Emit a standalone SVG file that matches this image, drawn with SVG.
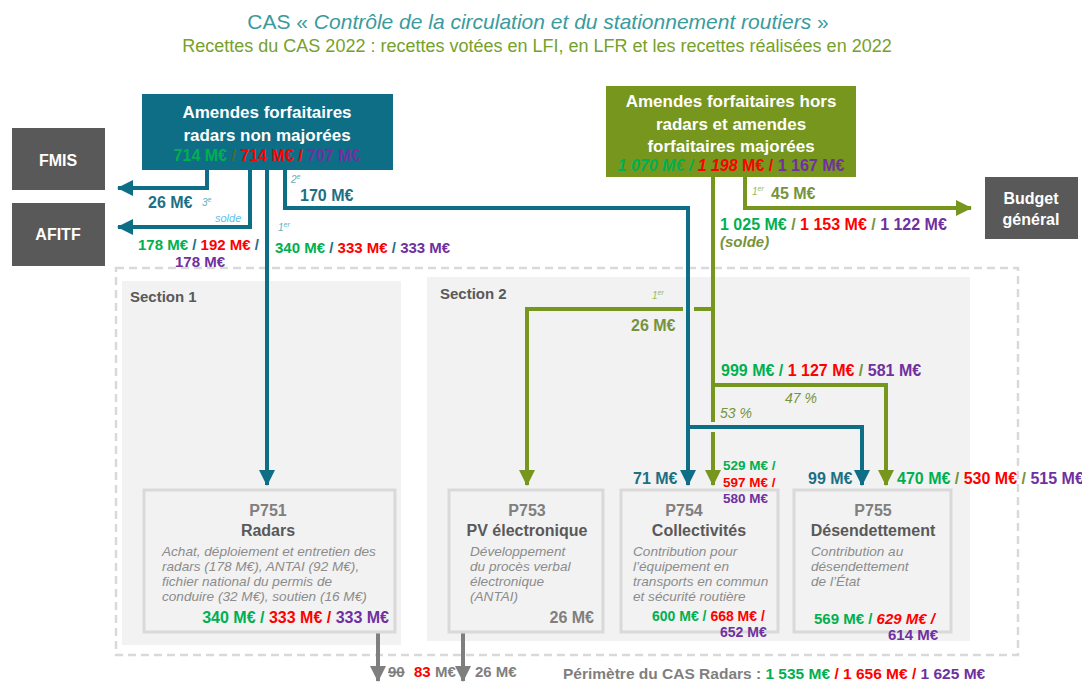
<svg xmlns="http://www.w3.org/2000/svg" width="1082" height="682" viewBox="0 0 1082 682">
<defs>
<style>
text{font-family:"Liberation Sans",Arial,sans-serif}
.b{font-weight:bold}
.i{font-style:italic}
.w{fill:#fff}
.g{fill:#00b050}.r{fill:#ff0000}.p{fill:#7030a0}
.t{fill:#1d6f83}.o{fill:#77933c}.gr{fill:#7f7f7f}.dg{fill:#595959}
.tl{fill:none;stroke:#0e6e86;stroke-width:4}
.gl{fill:none;stroke:#76961e;stroke-width:4}
.ggl{fill:none;stroke:#7f7f7f;stroke-width:4}
.desc{font-size:13.6px;font-style:italic;fill:#8c8c8c}
.prog{fill:#f2f2f2;stroke:#d9d9d9;stroke-width:3}
</style>
<marker id="mt" markerUnits="userSpaceOnUse" markerWidth="16" markerHeight="16" refX="15" refY="8" orient="auto"><path d="M0,0 L16,8 L0,16 z" fill="#0e6e86"/></marker>
<marker id="mg" markerUnits="userSpaceOnUse" markerWidth="16" markerHeight="16" refX="15" refY="8" orient="auto"><path d="M0,0 L16,8 L0,16 z" fill="#76961e"/></marker>
<marker id="mgr" markerUnits="userSpaceOnUse" markerWidth="16" markerHeight="16" refX="15" refY="8" orient="auto"><path d="M0,0 L16,8 L0,16 z" fill="#7f7f7f"/></marker>
</defs>

<g id="title">
<text x="538" y="29" text-anchor="middle" font-size="21" fill="#3a9b9e">CAS « <tspan class="i">Contrôle de la circulation et du stationnement routiers</tspan> »</text>
<text x="537" y="52" text-anchor="middle" font-size="18" fill="#76a12a">Recettes du CAS 2022 : recettes votées en LFI, en LFR et les recettes réalisées en 2022</text>
</g>

<g id="sections">
<rect x="116" y="268" width="902" height="387" fill="none" stroke="#d9d9d9" stroke-width="2.5" stroke-dasharray="8,5"/>
<rect x="122" y="281" width="279" height="364" fill="#f2f2f2"/>
<text x="130" y="302" class="b dg" font-size="15">Section 1</text>
<rect x="427" y="277" width="543" height="364" fill="#f2f2f2"/>
<text x="440" y="299" class="b dg" font-size="15">Section 2</text>
</g>

<g id="connectors">
<path class="tl" d="M207,170 V188 H118" marker-end="url(#mt)"/>
<path class="tl" d="M250,170 V227 H118" marker-end="url(#mt)"/>
<path class="tl" d="M267,170 V485" marker-end="url(#mt)"/>
<path class="tl" d="M285,170 V208 H688 V485" marker-end="url(#mt)"/>
<path class="tl" d="M688,427 H862 V485" marker-end="url(#mt)"/>
<path class="gl" d="M745,177 V208 H971" marker-end="url(#mg)"/>
<path class="gl" d="M713,177 V422"/>
<path class="gl" d="M713,432 V485" marker-end="url(#mg)"/>
<path class="gl" d="M713,309 H694"/>
<path class="gl" d="M683,309 H527 V485" marker-end="url(#mg)"/>
<path class="gl" d="M713,385 H886 V485" marker-end="url(#mg)"/>
<path class="ggl" d="M378,632 V681" marker-end="url(#mgr)"/>
<path class="ggl" d="M463,632 V681" marker-end="url(#mgr)"/>
</g>

<g id="src-radars">
<rect x="142" y="94" width="251" height="76" fill="#0e6e86"/>
<text x="267" y="118" text-anchor="middle" class="b w" font-size="17">Amendes forfaitaires</text>
<text x="267" y="141" text-anchor="middle" class="b w" font-size="17">radars non majorées</text>
<text x="267" y="161" text-anchor="middle" class="b" font-size="16"><tspan class="g">714 M€</tspan><tspan fill="#4b6b2a"> / </tspan><tspan class="r">714 M€ /</tspan><tspan class="p"> 707 M€</tspan></text>
</g>

<g id="src-hors">
<rect x="606" y="86" width="250" height="91" fill="#76961e"/>
<text x="731" y="107" text-anchor="middle" class="b w" font-size="17">Amendes forfaitaires hors</text>
<text x="731" y="130" text-anchor="middle" class="b w" font-size="17">radars et amendes</text>
<text x="731" y="152" text-anchor="middle" class="b w" font-size="17">forfaitaires majorées</text>
<text x="731" y="171" text-anchor="middle" class="b" font-size="16"><tspan class="g i">1 070 M€ / </tspan><tspan class="r i"> 1 198</tspan><tspan class="r"> M€ / </tspan><tspan class="p">1 167 M€</tspan></text>
</g>

<g id="fmis">
<rect x="12" y="128" width="93" height="62" fill="#595959"/>
<text x="58" y="166" text-anchor="middle" class="b w" font-size="16">FMIS</text>
</g>
<g id="afitf">
<rect x="12" y="203" width="93" height="63" fill="#595959"/>
<text x="58" y="240" text-anchor="middle" class="b w" font-size="16">AFITF</text>
</g>
<g id="budget">
<rect x="985" y="177" width="93" height="62" fill="#595959"/>
<text x="1031" y="204" text-anchor="middle" class="b w" font-size="16">Budget</text>
<text x="1031" y="225" text-anchor="middle" class="b w" font-size="16">général</text>
</g>

<g id="p751">
<rect class="prog" x="144" y="490" width="251" height="142"/>
<text x="268" y="516" text-anchor="middle" class="b gr" font-size="16">P751</text>
<text x="268" y="536" text-anchor="middle" class="b dg" font-size="16">Radars</text>
<text x="162" y="556" class="desc">Achat, déploiement et entretien des</text>
<text x="162" y="571" class="desc">radars (178 M€), ANTAI (92 M€),</text>
<text x="162" y="586" class="desc">fichier national du permis de</text>
<text x="162" y="601" class="desc">conduire (32 M€), soutien (16 M€)</text>
<text x="389" y="623" text-anchor="end" class="b" font-size="16"><tspan class="g">340 M€ / </tspan><tspan class="r">333 M€ / </tspan><tspan class="p">333 M€</tspan></text>
</g>

<g id="p753">
<rect class="prog" x="449" y="490" width="154" height="142"/>
<text x="527" y="516" text-anchor="middle" class="b gr" font-size="16">P753</text>
<text x="527" y="536" text-anchor="middle" class="b dg" font-size="16">PV électronique</text>
<text x="470" y="556" class="desc">Développement</text>
<text x="470" y="571" class="desc">du procès verbal</text>
<text x="470" y="586" class="desc">électronique</text>
<text x="470" y="601" class="desc">(ANTAI)</text>
<text x="594" y="623" text-anchor="end" class="b gr" font-size="16">26 M€</text>
</g>

<g id="p754">
<rect class="prog" x="621" y="490" width="157" height="142"/>
<text x="684" y="516" text-anchor="middle" class="b gr" font-size="16">P754</text>
<text x="699" y="536" text-anchor="middle" class="b dg" font-size="16">Collectivités</text>
<text x="633" y="556" class="desc">Contribution pour</text>
<text x="633" y="571" class="desc">l’équipement en</text>
<text x="633" y="586" class="desc">transports en commun</text>
<text x="633" y="601" class="desc">et sécurité routière</text>
<text x="652" y="621" class="b" font-size="14"><tspan class="g">600 M€ / </tspan><tspan class="r">668 M€ /</tspan></text>
<text x="720" y="637" class="b p" font-size="14">652 M€</text>
</g>

<g id="p755">
<rect class="prog" x="794" y="490" width="157" height="142"/>
<text x="873" y="516" text-anchor="middle" class="b gr" font-size="16">P755</text>
<text x="873" y="536" text-anchor="middle" class="b dg" font-size="16">Désendettement</text>
<text x="811" y="556" class="desc">Contribution  au</text>
<text x="811" y="571" class="desc">désendettement</text>
<text x="811" y="586" class="desc">de l’État</text>
<text x="814" y="624" class="b" font-size="15"><tspan class="g">569 M€ / </tspan><tspan class="r i">629 M€ /</tspan></text>
<text x="888" y="640" class="b p" font-size="15">614 M€</text>
</g>

<g id="labels">
<text x="148" y="208" class="b t" font-size="16">26 M€</text>
<text x="202" y="206" class="i" font-size="10" fill="#66b2b8">3<tspan font-size="7" dy="-4">e</tspan></text>
<text x="215" y="222" class="i" font-size="11" fill="#5bc0eb">solde</text>
<text x="138" y="250" class="b" font-size="15"><tspan class="g">178 M€</tspan><tspan class="t"> / </tspan><tspan class="r">192 M€</tspan><tspan class="t"> /</tspan></text>
<text x="175" y="267" class="b p" font-size="15">178 M€</text>
<text x="291" y="183" class="i" font-size="10" fill="#66b2b8">2<tspan font-size="7" dy="-4">e</tspan></text>
<text x="300" y="201" class="b t" font-size="16">170 M€</text>
<text x="278" y="231" class="i" font-size="10" fill="#66b2b8">1<tspan font-size="7" dy="-4">er</tspan></text>
<text x="275" y="253" class="b" font-size="15"><tspan class="g">340 M€</tspan><tspan class="t"> / </tspan><tspan class="r">333 M€</tspan><tspan class="t"> / </tspan><tspan class="p">333 M€</tspan></text>

<text x="752" y="195" class="i" font-size="10" fill="#9bbb59">1<tspan font-size="7" dy="-4">er</tspan></text>
<text x="771" y="199" class="b o" font-size="16">45 M€</text>
<text x="720" y="230" class="b" font-size="16"><tspan class="g">1 025 M€</tspan><tspan class="o"> / </tspan><tspan class="r">1 153 M€</tspan><tspan class="o"> / </tspan><tspan class="p">1 122 M€</tspan></text>
<text x="720" y="247" class="b i o" font-size="15">(solde)</text>

<text x="652" y="299" class="i" font-size="10" fill="#9bbb59">1<tspan font-size="7" dy="-4">er</tspan></text>
<text x="631" y="331" class="b o" font-size="16">26 M€</text>
<text x="721" y="376" class="b" font-size="16"><tspan class="g">999 M€ / </tspan><tspan class="r"> 1 127 M€</tspan><tspan class="o"> / </tspan><tspan class="p">581 M€</tspan></text>
<text x="785" y="403" class="i o" font-size="14">47 %</text>
<text x="720" y="418" class="i o" font-size="14">53 %</text>

<text x="633" y="484" class="b t" font-size="16">71 M€</text>
<text x="723" y="470" class="b g" font-size="13.5">529 M€ /</text>
<text x="723" y="487" class="b r" font-size="13.5">597 M€ /</text>
<text x="723" y="503" class="b p" font-size="13.5">580 M€</text>
<text x="808" y="484" class="b t" font-size="16">99 M€</text>
<text x="897" y="484" class="b" font-size="16"><tspan class="g">470 M€</tspan><tspan class="o"> / </tspan><tspan class="r">530 M€</tspan><tspan class="o"> / </tspan><tspan class="p">515 M€</tspan></text>

<text x="388" y="677" class="b gr" font-size="15" text-decoration="line-through">90</text>
<text x="414" y="677" class="b r" font-size="15">83</text>
<text x="435" y="677" class="b gr" font-size="15">M€</text>
<text x="475" y="677" class="b gr" font-size="15">26 M€</text>
<text x="563" y="679" class="b" font-size="15.5"><tspan class="gr">Périmètre du CAS Radars : </tspan><tspan class="g">1 535 M€</tspan><tspan class="r"> / 1 656 M€ / </tspan><tspan class="p">1 625 M€</tspan></text>
</g>
</svg>
